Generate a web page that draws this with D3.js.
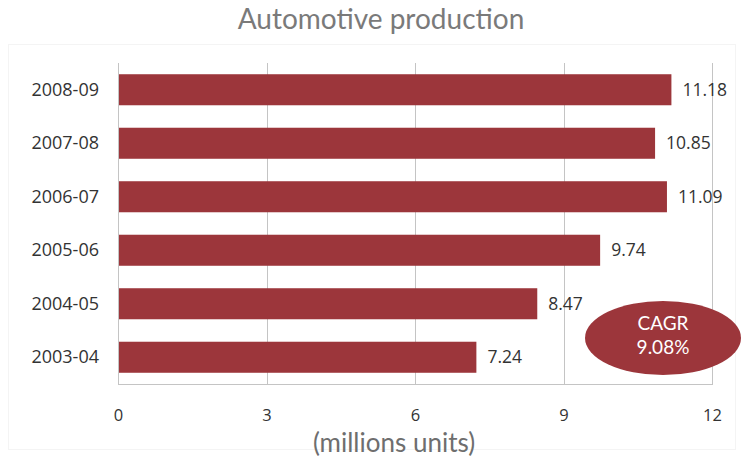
<!DOCTYPE html>
<html>
<head>
<meta charset="utf-8">
<script src="https://cdn.jsdelivr.net/npm/d3@7"></script>
<style>
  html, body { margin: 0; padding: 0; background: #fff; }
  svg { display: block; }
</style>
</head>
<body>
<svg id="chart" width="742" height="458"></svg>
<script>
const categories = ["2008-09", "2007-08", "2006-07", "2005-06", "2004-05", "2003-04"];
const values = [11.18, 10.85, 11.09, 9.74, 8.47, 7.24];
const xTicks = [0, 3, 6, 9, 12];
const titleText = "Automotive production";
const axisTitle = "(millions units)";
const cagrLines = ["CAGR", "9.08%"];

(function () {
const svg = d3.select("#chart");
const barColor = "#9c363b";
const gridColor = "#c4c4c4";

// faint outer chart frame
svg.append("rect")
  .attr("x", 8.5).attr("y", 44.5).attr("width", 727).attr("height", 405)
  .attr("fill", "none").attr("stroke", "#f4f4f4").attr("stroke-width", 1);

const pLeft = 118, pRight = 712, pTop = 63, pBottom = 384;

const x = d3.scaleLinear().domain([0, 12]).range([pLeft, pRight]);
const y = d3.scaleBand().domain(categories).range([pTop, pBottom]).paddingInner(0.42).paddingOuter(0.21);

// gridlines
svg.append("g").selectAll("line").data(xTicks.filter(d => d > 0)).join("line")
  .attr("x1", d => Math.round(x(d)) + 0.5).attr("x2", d => Math.round(x(d)) + 0.5)
  .attr("y1", pTop).attr("y2", pBottom)
  .attr("stroke", gridColor).attr("stroke-width", 1);

// bars
svg.append("g").selectAll("rect").data(values).join("rect")
  .attr("x", x(0))
  .attr("y", (d, i) => y(categories[i]))
  .attr("width", d => x(d) - x(0))
  .attr("height", y.bandwidth())
  .attr("fill", barColor);

// axes lines
svg.append("line").attr("x1", pLeft + 0.5).attr("x2", pLeft + 0.5).attr("y1", pTop).attr("y2", pBottom + 0.5)
  .attr("stroke", gridColor);
svg.append("line").attr("x1", pLeft).attr("x2", pRight + 1).attr("y1", pBottom + 0.5).attr("y2", pBottom + 0.5)
  .attr("stroke", gridColor);

// x axis tick labels via d3 axis
const xAxis = d3.axisBottom(x).tickValues(xTicks).tickSize(0).tickPadding(0).tickFormat(d3.format("d"));
const gx = svg.append("g").attr("transform", `translate(0, ${pBottom + 25})`).call(xAxis);
gx.select(".domain").remove();
gx.selectAll("text")
  .attr("font-family", "'Open Sans', sans-serif").attr("font-size", 16.5).attr("fill", "#333")
  .attr("dy", "0.71em");

// y axis labels via d3 axis
const yAxis = d3.axisLeft(y).tickSize(0).tickPadding(0);
const gy = svg.append("g").attr("transform", `translate(99, 0)`).call(yAxis);
gy.select(".domain").remove();
gy.selectAll("text")
  .attr("font-family", "'Open Sans', sans-serif").attr("font-size", 18).attr("fill", "#333");

// value labels
svg.append("g").selectAll("text").data(values).join("text")
  .attr("x", d => x(d) + 11)
  .attr("y", (d, i) => y(categories[i]) + y.bandwidth() / 2)
  .attr("dy", "0.35em")
  .attr("font-family", "'Open Sans', sans-serif").attr("font-size", 17.5).attr("fill", "#333")
  .text(d => d3.format(".2f")(d));

// title
svg.append("text").attr("x", 381).attr("y", 29).attr("text-anchor", "middle")
  .attr("font-family", "Lato, sans-serif").attr("font-size", 28).attr("fill", "#7a7a7a")
  .text(titleText);

// axis title
svg.append("text").attr("x", 394).attr("y", 452).attr("text-anchor", "middle")
  .attr("font-family", "Lato, sans-serif").attr("font-size", 26).attr("fill", "#6e6e6e")
  .text(axisTitle);

// CAGR ellipse
svg.append("ellipse").attr("cx", 663).attr("cy", 338).attr("rx", 78).attr("ry", 37).attr("fill", barColor);
svg.append("g").selectAll("text").data(cagrLines).join("text")
  .attr("x", 663).attr("y", (d, i) => 330 + i * 24).attr("text-anchor", "middle")
  .attr("font-family", "Lato, sans-serif").attr("font-size", 19).attr("fill", "#fff")
  .text(d => d);
})();
</script>
</body>
</html>
